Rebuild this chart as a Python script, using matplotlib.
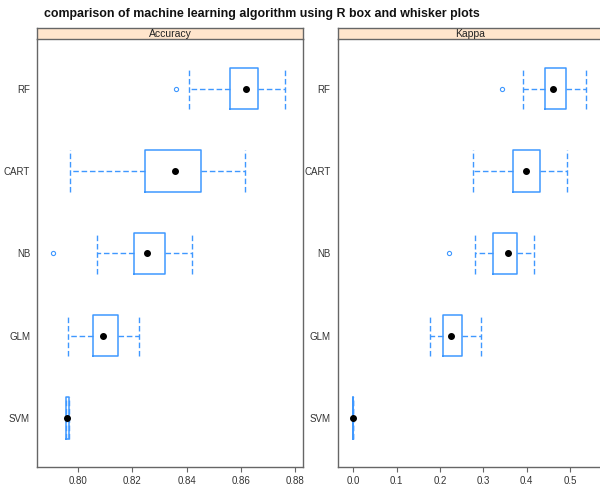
import matplotlib
matplotlib.use('Agg')
import matplotlib.pyplot as plt

plt.rcParams['font.family'] = ['Liberation Sans', 'DejaVu Sans']

# models, bottom to top
models = ['SVM', 'GLM', 'NB', 'CART', 'RF']

# Accuracy summary per model: whisker low, q1, median, q3, whisker high, outliers
acc_whislo = [0.7955, 0.7963, 0.8068, 0.7968, 0.8410]
acc_q1     = [0.7955, 0.8055, 0.8207, 0.8247, 0.8561]
acc_med    = [0.7957, 0.8090, 0.8254, 0.8357, 0.8617]
acc_q3     = [0.7966, 0.8147, 0.8319, 0.8453, 0.8663]
acc_whishi = [0.7966, 0.8225, 0.8419, 0.8615, 0.8764]
acc_out    = [[], [], [0.7906], [], [0.8361]]

# Kappa summary per model
kap_whislo = [0.0, 0.1775, 0.2804, 0.2758, 0.3918]
kap_q1     = [0.0, 0.2074, 0.3235, 0.3687, 0.4417]
kap_med    = [0.0, 0.2267, 0.3564, 0.3979, 0.4608]
kap_q3     = [0.0, 0.2512, 0.3772, 0.4302, 0.4908]
kap_whishi = [0.0, 0.2942, 0.4179, 0.4939, 0.5369]
kap_out    = [[], [], [0.2212], [], [0.3426]]

acc_ticks = [0.80, 0.82, 0.84, 0.86, 0.88]
kap_ticks = [0.0, 0.1, 0.2, 0.3, 0.4, 0.5]

BLUE = '#3f98ff'
FRAME = '#666666'
STRIP = '#ffe5cc'


def panel(fig, rect, title, lo, q1, med, q3, hi, outs, xlim, ticks, fmt):
    x0, y0, w, h = rect
    ax = fig.add_axes(rect)
    stats = [dict(whislo=a, q1=b, med=c, q3=d, whishi=e, fliers=f, label=m)
             for a, b, c, d, e, f, m in zip(lo, q1, med, q3, hi, outs, models)]
    pos = list(range(1, len(models) + 1))
    # caps are drawn as dashed vertical bars, as tall as the boxes
    ax.bxp(stats, positions=pos, orientation='horizontal', widths=0.5,
           capwidths=0.5,
           boxprops=dict(color=BLUE, lw=1.1),
           whiskerprops=dict(color=BLUE, lw=1.0, ls=(0, (4, 2))),
           capprops=dict(color=BLUE, lw=1.0, ls=(0, (4, 2))),
           medianprops=dict(visible=False),
           flierprops=dict(marker='o', markersize=3.0, markerfacecolor='none',
                           markeredgecolor=BLUE, markeredgewidth=0.8))
    ax.plot(med, pos, 'o', color='black', markersize=4.0, zorder=5)
    ax.set_xlim(*xlim)
    ax.set_ylim(0.4, 5.6)
    ax.set_xticks(ticks)
    ax.set_xticklabels([fmt.format(t) for t in ticks])
    ax.set_yticks(pos)
    ax.set_yticklabels(models)
    ax.tick_params(axis='x', length=3.5, color=FRAME, labelsize=7, pad=2.5,
                   labelcolor='#333333')
    ax.tick_params(axis='y', length=0, labelsize=7, pad=5, labelcolor='#333333')
    for side in ('left', 'bottom', 'right'):
        ax.spines[side].set_color(FRAME)
        ax.spines[side].set_linewidth(1.0)
    ax.spines['top'].set_visible(False)

    # strip header above the panel
    sax = fig.add_axes([x0, y0 + h, w, 11.3 / 486])
    sax.set_facecolor(STRIP)
    sax.set_xticks([])
    sax.set_yticks([])
    for s in sax.spines.values():
        s.set_color(FRAME)
        s.set_linewidth(1.0)
    sax.text(0.5, 0.45, title, ha='center', va='center', fontsize=7.5,
             color='#222222', transform=sax.transAxes)
    return ax


fig = plt.figure(figsize=(6, 4.86), dpi=100)

H = 1 - 39.3 / 486 - 0.0381
panel(fig, [37 / 600, 0.0381, 266 / 600, H], 'Accuracy',
      acc_whislo, acc_q1, acc_med, acc_q3, acc_whishi, acc_out,
      (0.7848, 0.8829), acc_ticks, '{:.2f}')
panel(fig, [337.5 / 600, 0.0381, 266 / 600, H], 'Kappa',
      kap_whislo, kap_q1, kap_med, kap_q3, kap_whishi, kap_out,
      (-0.036, 0.577), kap_ticks, '{:.1f}')

fig.text(262 / 600, 1 - 14 / 486, 'comparison of machine learning algorithm using R box and whisker plots',
         ha='center', va='center', fontsize=8.9, fontweight='bold', color='#111111')

fig.savefig('out.png', dpi=100)
